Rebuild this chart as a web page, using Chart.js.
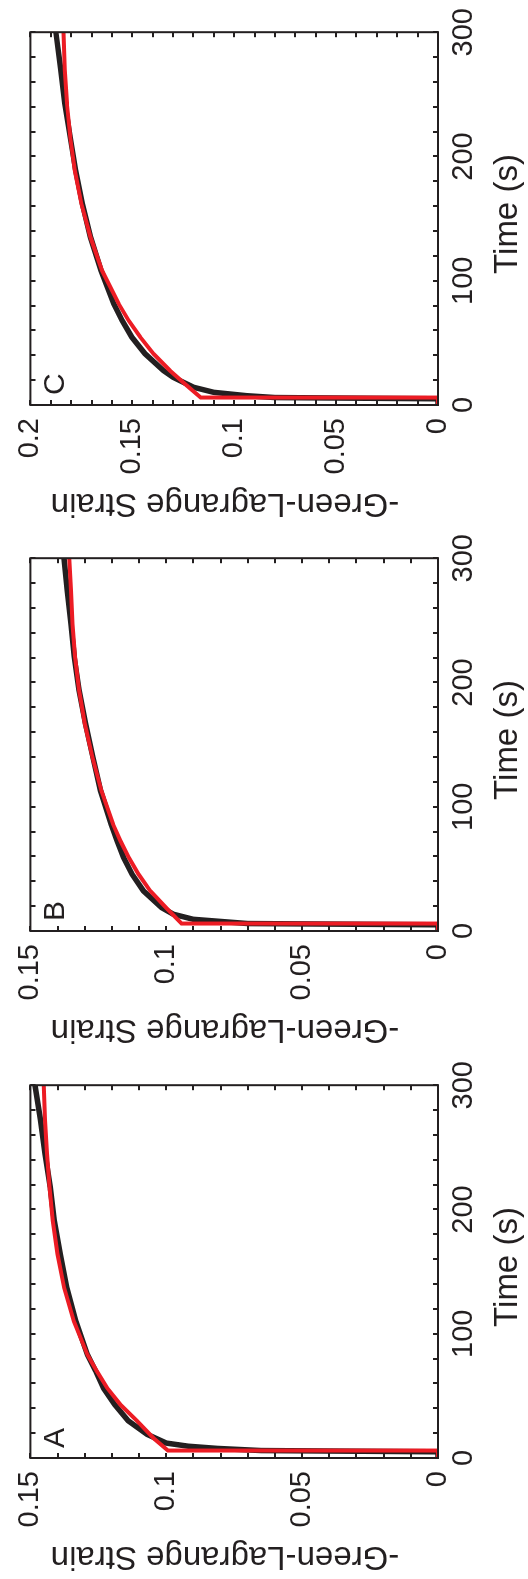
<!DOCTYPE html>
<html>
<head>
<meta charset="utf-8">
<script src="https://cdn.jsdelivr.net/npm/chart.js@4.4.1/dist/chart.umd.min.js"></script>
<style>
  html, body { margin: 0; padding: 0; background: #fff; overflow: hidden; }
  /* the three panels sit in one row, then the whole row is turned on its side */
  #figure {
    position: absolute; left: 0; top: 0;
    width: 1579px; height: 528px;
    overflow: hidden;
    transform-origin: 0 0;
    transform: translate(0, 1579px) rotate(-90deg);
  }
  #figure canvas { position: absolute; top: 0; }
</style>
</head>
<body>
<div id="figure">
  <canvas id="panelA" width="527" height="528" style="left:0px"></canvas>
  <canvas id="panelB" width="527" height="528" style="left:527px"></canvas>
  <canvas id="panelC" width="527" height="528" style="left:1053px"></canvas>
</div>
<script>
const INK = "#231f20";
const FIT_RED = "#ec1c24";
const FONT = "'Liberation Sans', Arial, Helvetica, sans-serif";

const panelLetters = ["A", "B", "C"];
const strainMax = [0.15, 0.15, 0.2];
const timeLabels = [0, 100, 200, 300];
const strainLabels = [0, 0.05, 0.1, 0.15, 0.2];

// creep tests, measured strain (black)
const measTimeA = [0, 5, 6, 7.7, 9.5, 12, 19, 30, 43, 56, 70, 83, 110, 137, 164, 191, 218, 245, 272, 300];
const measStrainA = [0, 0, 0.065, 0.081, 0.092, 0.100, 0.107, 0.114, 0.119, 0.123, 0.126, 0.129, 0.1333, 0.1366, 0.139, 0.1412, 0.1427, 0.1446, 0.1463, 0.1483];
const measTimeB = [0, 5, 6, 9.4, 13.5, 18.8, 32.3, 45.7, 59.2, 72.6, 86, 113, 140, 167, 194, 221, 247, 274, 300];
const measStrainB = [0, 0, 0.07, 0.090, 0.0974, 0.1017, 0.1084, 0.1126, 0.1157, 0.1181, 0.1203, 0.1242, 0.127, 0.1297, 0.1321, 0.1339, 0.1351, 0.1364, 0.1376];
const measTimeC = [0, 5, 6, 7.5, 10.2, 14.3, 22.3, 27.7, 41.2, 54.6, 68, 81.5, 108, 135, 162, 189, 216, 243, 270, 300];
const measStrainC = [0, 0, 0.08, 0.094, 0.110, 0.120, 0.130, 0.1347, 0.1437, 0.1502, 0.155, 0.1591, 0.1653, 0.1705, 0.1745, 0.1778, 0.1805, 0.1831, 0.1851, 0.1875];

// model fit (red)
const fitTimeA = [0, 6, 6, 16, 30, 43, 56.5, 70, 83, 110, 137, 164, 191, 218, 245, 272, 300];
const fitStrainA = [0, 0, 0.0994, 0.1047, 0.1108, 0.1169, 0.1218, 0.1256, 0.129, 0.134, 0.1376, 0.140, 0.1418, 0.143, 0.1439, 0.1446, 0.1451];
const fitTimeB = [0, 6, 6, 18.8, 32.3, 45.7, 59.2, 72.6, 86, 113, 140, 167, 194, 221, 247, 274, 300];
const fitStrainB = [0, 0, 0.0944, 0.1001, 0.1059, 0.1102, 0.1138, 0.1169, 0.1196, 0.1239, 0.1272, 0.130, 0.1321, 0.1336, 0.1345, 0.1351, 0.1357];
const fitTimeC = [0, 6, 6, 17, 27.7, 41.2, 54.6, 68, 81.5, 108, 135, 162, 189, 216, 243, 270, 300];
const fitStrainC = [0, 0, 0.1164, 0.1242, 0.1315, 0.1396, 0.1461, 0.1518, 0.1567, 0.1648, 0.1705, 0.175, 0.1782, 0.1805, 0.1821, 0.1831, 0.1838];

const toPoints = (xs, ys) => xs.map((x, i) => ({ x, y: ys[i] }));

const isLabelled = (value, list) => list.some((v) => Math.abs(v - value) < 1e-6);

// box frame with inward ticks on all four sides, plus the panel letter
const frameTicks = {
  id: "frameTicks",
  afterDatasetsDraw(chart, args, opts) {
    const { ctx, chartArea: a, scales } = chart;
    const len = 5;
    ctx.save();
    ctx.strokeStyle = INK;
    ctx.lineWidth = 2;
    ctx.beginPath();
    scales.x.ticks.forEach((t) => {
      const px = Math.round(scales.x.getPixelForValue(t.value));
      ctx.moveTo(px, a.bottom);
      ctx.lineTo(px, a.bottom - len);
      ctx.moveTo(px, a.top);
      ctx.lineTo(px, a.top + len);
    });
    scales.y.ticks.forEach((t) => {
      const py = Math.round(scales.y.getPixelForValue(t.value));
      ctx.moveTo(a.left, py);
      ctx.lineTo(a.left + len, py);
      ctx.moveTo(a.right, py);
      ctx.lineTo(a.right - len, py);
    });
    ctx.stroke();
    ctx.strokeRect(a.left, a.top, a.width, a.height);
    ctx.fillStyle = INK;
    ctx.font = `30px ${FONT}`;
    ctx.textAlign = "left";
    ctx.textBaseline = "alphabetic";
    ctx.fillText(opts.letter, a.left + 10, a.top + 34);
    ctx.restore();
  },
};

const buildPanel = (id, idx, meas, fit) =>
  new Chart(document.getElementById(id), {
    type: "line",
    data: {
      datasets: [
        {
          data: fit,
          borderColor: FIT_RED,
          borderWidth: 4,
          pointRadius: 0,
          tension: 0,
          order: 0,
        },
        {
          data: meas,
          borderColor: INK,
          borderWidth: 5.5,
          pointRadius: 0,
          tension: 0,
          order: 1,
        },
      ],
    },
    options: {
      responsive: false,
      animation: false,
      layout: { padding: { top: 23, right: 30, bottom: 0, left: 0 } },
      plugins: {
        legend: { display: false },
        tooltip: { enabled: false },
        frameTicks: { letter: panelLetters[idx] },
      },
      scales: {
        x: {
          type: "linear",
          min: 0,
          max: 300,
          grid: { display: false, drawTicks: false },
          border: { display: false },
          ticks: {
            stepSize: 20,
            autoSkip: false,
            maxRotation: 0,
            padding: 9,
            color: INK,
            font: { family: FONT, size: 29 },
            callback: (v) => (isLabelled(v, timeLabels) ? String(v) : ""),
          },
          title: {
            display: true,
            // leading space nudges the centred label a little along the axis
            text: " Time (s)",
            color: INK,
            font: { family: FONT, size: 33 },
            padding: { top: 0, bottom: 0 },
          },
          afterFit: (scale) => {
            scale.height = 90;
          },
        },
        y: {
          type: "linear",
          min: 0,
          max: strainMax[idx],
          grid: { display: false, drawTicks: false },
          border: { display: false },
          ticks: {
            stepSize: 0.01,
            autoSkip: false,
            padding: 13,
            color: INK,
            font: { family: FONT, size: 29 },
            callback: (v) =>
              isLabelled(v, strainLabels) ? String(Math.round(v * 100) / 100) : "",
          },
          title: {
            display: true,
            text: "  -Green-Lagrange Strain",
            color: INK,
            font: { family: FONT, size: 33 },
            padding: { top: 3, bottom: 0 },
          },
          afterFit: (scale) => {
            scale.width = 121;
          },
        },
      },
    },
    plugins: [frameTicks],
  });

buildPanel("panelA", 0, toPoints(measTimeA, measStrainA), toPoints(fitTimeA, fitStrainA));
buildPanel("panelB", 1, toPoints(measTimeB, measStrainB), toPoints(fitTimeB, fitStrainB));
buildPanel("panelC", 2, toPoints(measTimeC, measStrainC), toPoints(fitTimeC, fitStrainC));
</script>
</body>
</html>
